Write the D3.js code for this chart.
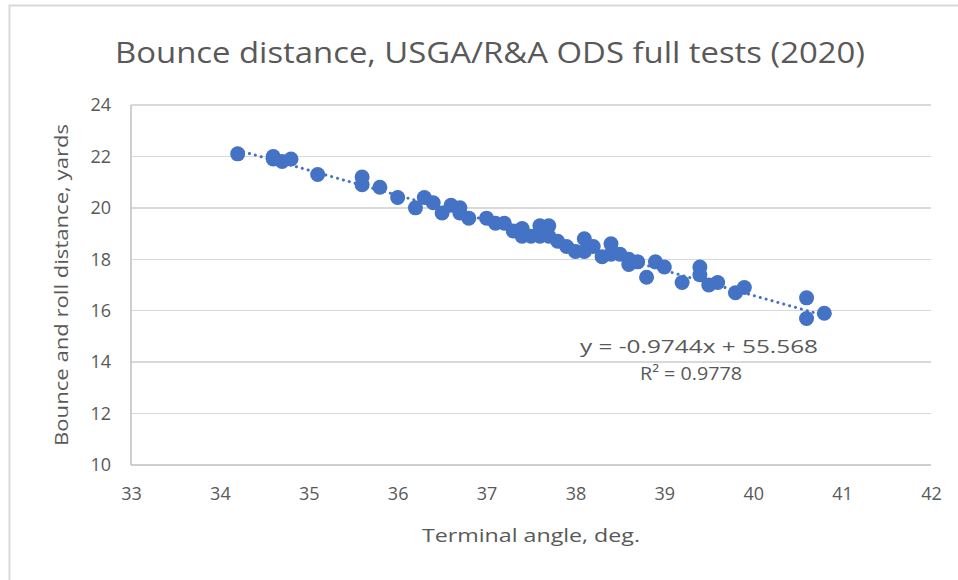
<!DOCTYPE html>
<html lang="en">
<head>
<meta charset="utf-8">
<style>
body { margin: 0; background: #fff; }
text { font-family: "Open Sans", "Liberation Sans", sans-serif; fill: #595959; }
.grid line { stroke: #d9d9d9; stroke-width: 1.5px; shape-rendering: crispEdges; }
</style>
</head>
<body>
<svg width="958" height="580"></svg>
<script src="https://cdn.jsdelivr.net/npm/d3@7/dist/d3.min.js"></script>
<script>
// terminal angle (deg) and bounce+roll distance (yards)
var angle = [34.2, 34.6, 34.6, 34.7, 34.8, 35.1, 35.6, 35.6, 35.8, 36.0,
             36.2, 36.3, 36.4, 36.5, 36.6, 36.7, 36.7, 36.8, 37.0, 37.1,
             37.2, 37.3, 37.4, 37.4, 37.5, 37.6, 37.7, 37.6, 37.7, 37.8,
             37.9, 38.0, 38.1, 38.1, 38.2, 38.3, 38.4, 38.4, 38.5, 38.6,
             38.6, 38.7, 38.8, 38.9, 39.0, 39.2, 39.4, 39.4, 39.5, 39.6,
             39.8, 39.9, 40.6, 40.6, 40.8];
var bounce = [22.1, 22.0, 21.9, 21.8, 21.9, 21.3, 21.2, 20.9, 20.8, 20.4,
              20.0, 20.4, 20.2, 19.8, 20.1, 20.0, 19.8, 19.6, 19.6, 19.4,
              19.4, 19.1, 19.2, 18.9, 18.9, 19.3, 19.3, 18.9, 18.9, 18.7,
              18.5, 18.3, 18.8, 18.3, 18.5, 18.1, 18.6, 18.2, 18.2, 18.0,
              17.8, 17.9, 17.3, 17.9, 17.7, 17.1, 17.7, 17.4, 17.0, 17.1,
              16.7, 16.9, 16.5, 15.7, 15.9];
var xTicks = [33, 34, 35, 36, 37, 38, 39, 40, 41, 42];
var yTicks = [10, 12, 14, 16, 18, 20, 22, 24];
var slope = -0.9744, intercept = 55.568;
var eqLabel = "y = -0.9744x + 55.568", r2Label = "R² = 0.9778";

var svg = d3.select("svg");
var mLeft = 131, mRight = 931, mTop = 105, mBottom = 465;

var x = d3.scaleLinear().domain([33, 42]).range([mLeft, mRight]),
    y = d3.scaleLinear().domain([10, 24]).range([mBottom, mTop]);

// outer frame
svg.append("rect")
    .attr("x", 9.5).attr("y", 5.5)
    .attr("width", 980).attr("height", 620)
    .attr("fill", "none").attr("stroke", "#d9d9d9").attr("stroke-width", 2);

svg.append("text")
    .attr("x", 490).attr("y", 63)
    .attr("text-anchor", "middle")
    .attr("font-size", 30)
    .attr("textLength", 750).attr("lengthAdjust", "spacingAndGlyphs")
    .text("Bounce distance, USGA/R&A ODS full tests (2020)");

// horizontal gridlines
svg.append("g").attr("class", "grid")
  .selectAll("line").data(yTicks.slice(1)).enter().append("line")
    .attr("x1", mLeft).attr("x2", mRight)
    .attr("y1", function(d) { return y(d); })
    .attr("y2", function(d) { return y(d); });

var axisColor = "#bfbfbf";
svg.append("line")
    .attr("x1", mLeft).attr("x2", mLeft).attr("y1", mTop).attr("y2", mBottom)
    .attr("stroke", axisColor).attr("stroke-width", 1.5);
svg.append("line")
    .attr("x1", mLeft).attr("x2", mRight).attr("y1", mBottom).attr("y2", mBottom)
    .attr("stroke", axisColor).attr("stroke-width", 1.5);

svg.append("g")
    .attr("transform", "translate(0," + mBottom + ")")
    .call(d3.axisBottom(x).tickValues(xTicks).tickSize(0).tickPadding(22).tickFormat(d3.format("d")));
svg.append("g")
    .attr("transform", "translate(" + mLeft + ",0)")
    .call(d3.axisLeft(y).tickValues(yTicks).tickSize(0).tickPadding(20).tickFormat(d3.format("d")));
svg.selectAll(".domain").remove();
svg.selectAll(".tick text")
    .attr("fill", "#595959")
    .attr("font-size", 18)
    .attr("font-family", "'Open Sans', sans-serif");

svg.append("text")
    .attr("transform", "translate(68," + ((mTop + mBottom) / 2) + ") rotate(-90)")
    .attr("text-anchor", "middle")
    .attr("font-size", 19)
    .attr("textLength", 322).attr("lengthAdjust", "spacingAndGlyphs")
    .text("Bounce and roll distance, yards");

svg.append("text")
    .attr("x", 531).attr("y", 542)
    .attr("text-anchor", "middle")
    .attr("font-size", 19)
    .attr("textLength", 218).attr("lengthAdjust", "spacingAndGlyphs")
    .text("Terminal angle, deg.");

var pts = angle.map(function(a, i) { return [a, bounce[i]]; });

svg.append("g").selectAll("circle")
    .data(pts).enter().append("circle")
    .attr("cx", function(d) { return x(d[0]); })
    .attr("cy", function(d) { return y(d[1]); })
    .attr("r", 7.5)
    .attr("fill", "#4472c4");

// linear trendline over the data range
var xe = d3.extent(angle);
svg.append("line")
    .attr("x1", x(xe[0])).attr("y1", y(slope * xe[0] + intercept))
    .attr("x2", x(xe[1])).attr("y2", y(slope * xe[1] + intercept))
    .attr("stroke", "#4472c4").attr("stroke-width", 3)
    .attr("stroke-linecap", "round")
    .attr("stroke-dasharray", "0.1,6");

svg.append("text")
    .attr("x", 699).attr("y", 353)
    .attr("text-anchor", "middle").attr("font-size", 18)
    .attr("textLength", 238).attr("lengthAdjust", "spacingAndGlyphs")
    .text(eqLabel);
svg.append("text")
    .attr("x", 691).attr("y", 380)
    .attr("text-anchor", "middle").attr("font-size", 18)
    .attr("textLength", 102).attr("lengthAdjust", "spacingAndGlyphs")
    .text(r2Label);
</script>
</body>
</html>
